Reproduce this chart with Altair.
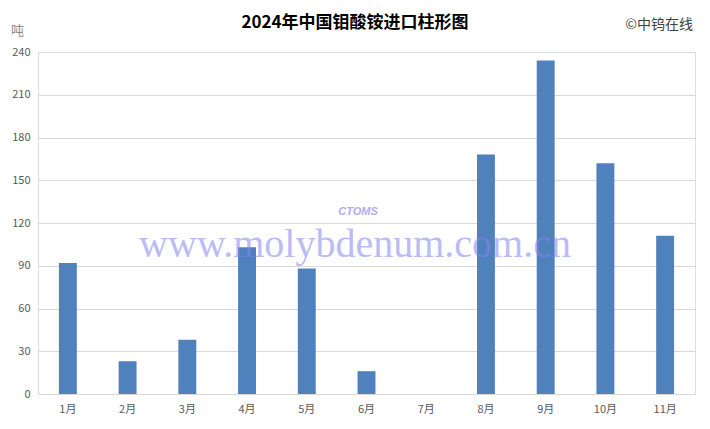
import altair as alt
import pandas as pd

months = ["1月", "2月", "3月", "4月", "5月", "6月", "7月", "8月", "9月", "10月", "11月"]
tons = [92, 23, 38, 103, 88, 16, 0, 168, 234, 162, 111]
y_ticks = [0, 30, 60, 90, 120, 150, 180, 210, 240]

title_text = "2024年中国钼酸铵进口柱形图"
copyright_text = "©中钨在线"
unit_text = "吨"
watermark_text = "www.molybdenum.com.cn"
logo_text = "CTOMS"

df = pd.DataFrame({"month": months, "tons": tons})

W, H = 657, 342
CJK = "Noto Sans CJK SC"

bars = alt.Chart(df).mark_bar(color="#4f81bd").encode(
    x=alt.X(
        "month:N",
        sort=months,
        scale=alt.Scale(paddingInner=0.7, paddingOuter=0.35),
        axis=alt.Axis(
            title=None, labelAngle=0, ticks=False, labelPadding=9,
            labelFont=CJK, labelFontSize=11, labelColor="#595959",
            domainColor="#d9d9d9", grid=False,
        ),
    ),
    y=alt.Y(
        "tons:Q",
        scale=alt.Scale(domain=[0, 240], nice=False),
        axis=alt.Axis(
            values=y_ticks, title=unit_text, titleAngle=0,
            titleX=-21, titleY=-22, titleAlign="center", titleBaseline="middle",
            titleFont=CJK, titleFontSize=13, titleFontWeight="normal", titleColor="#8c8c8c",
            labelFont=CJK, labelFontSize=11, labelColor="#595959", labelPadding=8,
            ticks=False, domain=False, gridColor="#d9d9d9",
        ),
    ),
)

wm = pd.DataFrame({"t": [watermark_text]})
watermark = alt.Chart(wm).mark_text(
    font="Liberation Serif", fontSize=40, color="#8585f0", opacity=0.55,
    align="center", baseline="alphabetic",
).encode(text="t:N", x=alt.value(317), y=alt.value(205))

lg = pd.DataFrame({"t": [logo_text]})
logo = alt.Chart(lg).mark_text(
    font="Liberation Sans", fontSize=11, fontStyle="italic", fontWeight="bold",
    color="#9a9af2", opacity=0.8, align="center", baseline="middle",
).encode(text="t:N", x=alt.value(320), y=alt.value(160))

tt = pd.DataFrame({"t": [title_text]})
title = alt.Chart(tt).mark_text(
    font=CJK, fontSize=17, fontWeight="bold", color="#000000",
    align="center", baseline="middle",
).encode(text="t:N", x=alt.value(317), y=alt.value(-29))

ct = pd.DataFrame({"t": [copyright_text]})
copyright = alt.Chart(ct).mark_text(
    font=CJK, fontSize=14, color="#404040", align="right", baseline="middle",
).encode(text="t:N", x=alt.value(655), y=alt.value(-27))

chart = alt.layer(bars, watermark, logo, title, copyright).properties(
    width=W, height=H,
    autosize=alt.AutoSizeParams(type="none"),
    padding={"left": 30, "top": 44, "right": 7, "bottom": 27},
).configure_view(stroke="#d9d9d9", strokeWidth=1).configure(background="white")

chart.save("out.html", embed_options={"renderer": "svg", "actions": False})
